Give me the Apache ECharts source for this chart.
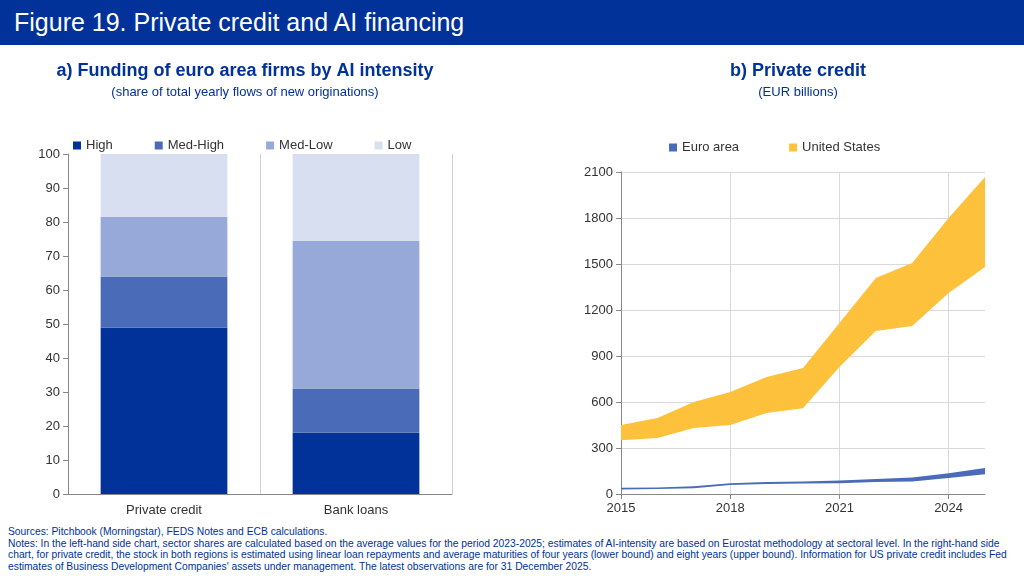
<!DOCTYPE html>
<html><head><meta charset="utf-8">
<script src="https://cdn.jsdelivr.net/npm/echarts@6/dist/echarts.min.js"></script>
<style>
body{margin:0;width:1024px;height:588px;overflow:hidden;font-family:Arial,"Liberation Sans",sans-serif;background:#fff;}
#bar{position:absolute;left:0;top:0;width:1024px;height:45px;background:#003299;color:#fff;font-size:25px;line-height:45px;padding-left:14px;box-sizing:border-box;}
#c{position:absolute;left:0;top:45px;width:1024px;height:480px;}
#notes{position:absolute;left:8px;top:526px;width:1012px;font-size:10.3px;color:#003299;line-height:11.5px;}
</style></head><body>
<div id="bar">Figure 19. Private credit and AI financing</div>
<div id="c"></div>
<div id="notes">Sources: Pitchbook (Morningstar), FEDS Notes and ECB calculations.<br>Notes: In the left-hand side chart, sector shares are calculated based on the average values for the period 2023-2025; estimates of AI-intensity are based on Eurostat methodology at sectoral level. In the right-hand side chart, for private credit, the stock in both regions is estimated using linear loan repayments and average maturities of four years (lower bound) and eight years (upper bound). Information for US private credit includes Fed estimates of Business Development Companies' assets under management. The latest observations are for 31 December 2025.</div>
<script>
const categories=['Private credit','Bank loans'];
const high=[49,18];
const medHigh=[15,13];
const medLow=[17.5,43.5];
const low=[18.5,25.5];
const years=['2015','2016','2017','2018','2019','2020','2021','2022','2023','2024','2025'];
const usLower=[350,365,430,450,528,560,828,1063,1096,1311,1480];
const usUpper=[450,495,600,665,763,822,1115,1409,1506,1800,2067];
const eaLower=[30,32,38,58,65,68,70,78,82,105,128];
const eaUpper=[40,42,50,70,78,82,88,98,108,135,170];
const diff=(u,l)=>u.map((v,i)=>v-l[i]);
const navy='#003299';
const ch=echarts.init(document.getElementById('c'));
const txt={color:'#333',fontSize:13,fontFamily:'Arial'};
const yearTick=(i)=>i%3===0;
ch.setOption({
 animation:false,
 title:[
  {text:'a) Funding of euro area firms by AI intensity',subtext:'(share of total yearly flows of new originations)',left:240,top:12,textAlign:'center',itemGap:6,
   textStyle:{color:navy,fontSize:18,fontWeight:'bold',fontFamily:'Arial'},subtextStyle:{color:navy,fontSize:13,fontFamily:'Arial'}},
  {text:'b) Private credit',subtext:'(EUR billions)',left:793,top:12,textAlign:'center',itemGap:6,
   textStyle:{color:navy,fontSize:18,fontWeight:'bold',fontFamily:'Arial'},subtextStyle:{color:navy,fontSize:13,fontFamily:'Arial'}}
 ],
 legend:[
  {left:68,top:89,itemWidth:8,itemHeight:8,itemGap:42,textStyle:txt,icon:'rect',data:['High','Med-High','Med-Low','Low']},
  {left:664,top:91,itemWidth:8,itemHeight:8,itemGap:50,textStyle:txt,icon:'rect',data:['Euro area','United States']}
 ],
 grid:[
  {left:68,top:109,width:384,height:340},
  {left:621,top:127,width:364,height:322}
 ],
 xAxis:[
  {gridIndex:0,type:'category',data:categories,axisLine:{lineStyle:{color:'#888'}},axisTick:{show:false},axisLabel:{...txt,margin:10},
   splitLine:{show:true,lineStyle:{color:'#d0d0d0'}}},
  {gridIndex:1,type:'category',data:years,boundaryGap:false,axisLine:{lineStyle:{color:'#888'}},
   axisTick:{show:true,interval:yearTick,lineStyle:{color:'#888'}},
   axisLabel:{...txt,margin:8,interval:yearTick},splitLine:{show:true,interval:yearTick,lineStyle:{color:'#d9d9d9'}}}
 ],
 yAxis:[
  {gridIndex:0,type:'value',min:0,max:100,interval:10,axisLine:{show:true,lineStyle:{color:'#888'}},axisTick:{show:true,lineStyle:{color:'#888'}},axisLabel:txt,splitLine:{show:false}},
  {gridIndex:1,type:'value',min:0,max:2100,interval:300,axisLine:{show:true,lineStyle:{color:'#888'}},axisTick:{show:true,lineStyle:{color:'#888'}},axisLabel:{...txt,formatter:v=>String(v)},splitLine:{show:true,lineStyle:{color:'#d9d9d9'}}}
 ],
 series:[
  {name:'High',type:'bar',stack:'a',data:high,barWidth:'66%',itemStyle:{color:'#003299'}},
  {name:'Med-High',type:'bar',stack:'a',data:medHigh,itemStyle:{color:'#4a6cb8'}},
  {name:'Med-Low',type:'bar',stack:'a',data:medLow,itemStyle:{color:'#97a9d8'}},
  {name:'Low',type:'bar',stack:'a',data:low,itemStyle:{color:'#d8dff0'}},
  {name:'eaL',type:'line',xAxisIndex:1,yAxisIndex:1,stack:'ea',data:eaLower,symbol:'none',lineStyle:{opacity:0},areaStyle:{opacity:0}},
  {name:'Euro area',type:'line',xAxisIndex:1,yAxisIndex:1,stack:'ea',data:diff(eaUpper,eaLower),symbol:'none',itemStyle:{color:'#4a6cb8'},lineStyle:{opacity:0},areaStyle:{color:'#4a6cb8',opacity:1}},
  {name:'usL',type:'line',xAxisIndex:1,yAxisIndex:1,stack:'us',data:usLower,symbol:'none',lineStyle:{opacity:0},areaStyle:{opacity:0}},
  {name:'United States',type:'line',xAxisIndex:1,yAxisIndex:1,stack:'us',data:diff(usUpper,usLower),symbol:'none',itemStyle:{color:'#fdc13c'},lineStyle:{opacity:0},areaStyle:{color:'#fdc13c',opacity:1}}
 ]
});
</script>
</body></html>
